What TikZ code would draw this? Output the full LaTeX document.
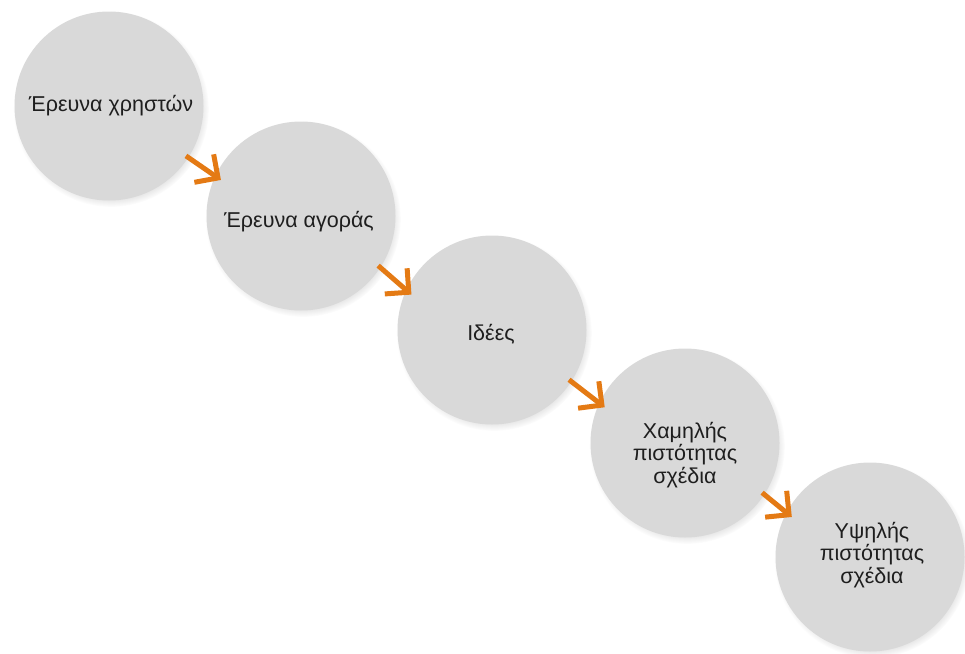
\documentclass[tikz,border=0pt]{standalone}
\usepackage{fontspec}
\setmainfont{Liberation Sans}
\usetikzlibrary{arrows.meta,shadows,fadings}
\definecolor{bubble}{RGB}{217,217,217}
\definecolor{arroworange}{RGB}{228,122,20}
\definecolor{txt}{RGB}{30,30,30}
\tikzset{
  bubble/.style={circle, fill=bubble, minimum size=189pt, inner sep=0pt,
    circular drop shadow={shadow xshift=2pt, shadow yshift=-3pt, shadow scale=1.035, opacity=0.35}},
  lbl/.style={text=txt, align=center, font=\fontsize{21.5}{22.5}\selectfont, inner sep=0pt},
  arr/.style={draw=arroworange, line width=5pt,
    -{Straight Barb[length=17pt,width=34pt]},
    shorten <=-3pt, shorten >=-7pt}
}
\begin{document}
\begin{tikzpicture}[x=1pt,y=-1pt]
\useasboundingbox (0,0) rectangle (965,653);
\node[bubble] (c1) at (109,106) {};
\node[bubble] (c2) at (301,216) {};
\node[bubble] (c3) at (492,330) {};
\node[bubble] (c4) at (685,443) {};
\node[bubble] (c5) at (870,557) {};
\node[lbl] (t1) at (111,106) {Έρευνα χρηστών};
\node[lbl] (t2) at (299,222) {Έρευνα αγοράς};
\node[lbl] (t3) at (491,334) {Ιδέες};
\node[lbl] (t4) at (685,455) {Χαμηλής\\πιστότητας\\σχέδια};
\node[lbl] (t5) at (872,555) {Υψηλής\\πιστότητας\\σχέδια};
\draw[arr] (c1.-33) -- (c2.155);
\draw[arr] (c2.-33) -- (c3.155);
\draw[arr] (c3.-33) -- (c4.155);
\draw[arr] (c4.-33) -- (c5.152);
\end{tikzpicture}
\end{document}
